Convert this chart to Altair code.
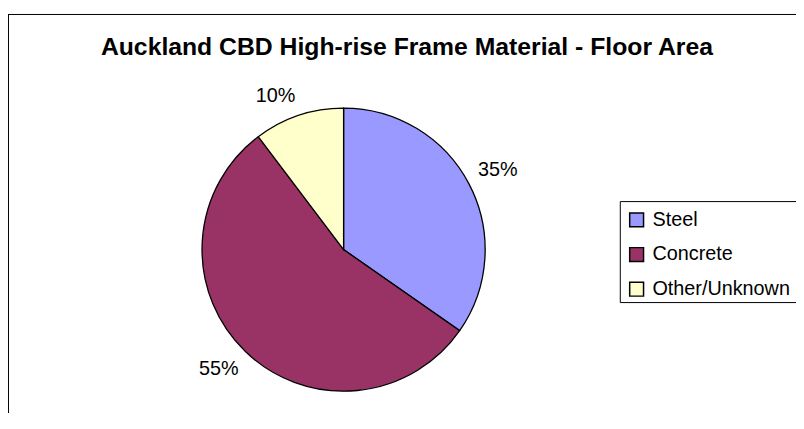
import altair as alt
import pandas as pd

title_text = "Auckland CBD High-rise Frame Material - Floor Area"
categories = ["Steel", "Concrete", "Other/Unknown"]
shares = [34.7, 55.0, 10.3]
labels = ["35%", "55%", "10%"]
colors = ["#9999FF", "#993366", "#FFFFCC"]

df = pd.DataFrame({"material": categories, "share": shares, "label": labels,
                   "idx": list(range(len(categories)))})
one = pd.DataFrame({"t": [title_text]})

W, H = 796, 405
CX, CY = 339, 242
R = 143
FONT = "Liberation Sans"

base = (
    alt.Chart(df)
    .transform_window(cum="sum(share)", sort=[alt.SortField("idx")], frame=[None, 0])
    .transform_joinaggregate(total="sum(share)")
    .transform_calculate(
        t0="(datum.cum - datum.share) / datum.total * 2 * PI",
        t1="datum.cum / datum.total * 2 * PI",
        tm="(datum.cum - datum.share / 2) / datum.total * 2 * PI",
    )
)

pie = base.mark_arc(radius=R, stroke="black", strokeWidth=1.3).encode(
    theta=alt.Theta("t0:Q", scale=None),
    theta2="t1:Q",
    color=alt.Color(
        "material:N",
        scale=alt.Scale(domain=categories, range=colors),
        legend=alt.Legend(
            title=None, orient="none", legendX=625, legendY=202,
            symbolType="square", symbolSize=196, symbolStrokeColor="black",
            symbolStrokeWidth=1.5, labelFont=FONT, labelFontSize=20,
            labelColor="black", labelOffset=6, rowPadding=15, padding=0,
        ),
    ),
    x=alt.value(CX),
    y=alt.value(CY),
)


def lab(expr, align, baseline):
    return base.transform_filter(expr).mark_text(
        radius=R + 10, align=align, baseline=baseline, font=FONT,
        fontSize=20, color="black",
    ).encode(
        theta=alt.Theta("tm:Q", scale=None),
        text="label:N",
        x=alt.value(CX),
        y=alt.value(CY),
    )


labels_layers = [
    lab("datum.tm < PI / 2", "left", "bottom"),
    lab("datum.tm >= PI / 2 && datum.tm < PI", "left", "top"),
    lab("datum.tm >= PI && datum.tm < 1.5 * PI", "right", "top"),
    lab("datum.tm >= 1.5 * PI", "right", "bottom"),
]

frame_top = alt.Chart(one).mark_rule(color="black", strokeWidth=1).encode(
    x=alt.value(0), x2=alt.value(W + 20), y=alt.value(4.5))
frame_left = alt.Chart(one).mark_rule(color="black", strokeWidth=1).encode(
    x=alt.value(0.5), y=alt.value(4), y2=alt.value(H + 20))
legend_box = alt.Chart(one).mark_rect(filled=False, stroke="black", strokeWidth=1).encode(
    x=alt.value(618.5), x2=alt.value(W + 20), y=alt.value(193.5), y2=alt.value(295.5))
title = alt.Chart(one).mark_text(
    font=FONT, fontSize=25, fontWeight="bold", align="center",
    baseline="alphabetic", color="black",
).encode(text="t:N", x=alt.value(403), y=alt.value(45))

chart = alt.layer(frame_top, frame_left, legend_box, title, pie, *labels_layers).properties(
    width=W, height=H, padding=0, autosize="none", background="white"
).configure_view(stroke=None)

chart.save("out.html", embed_options={"renderer": "svg", "actions": False})
